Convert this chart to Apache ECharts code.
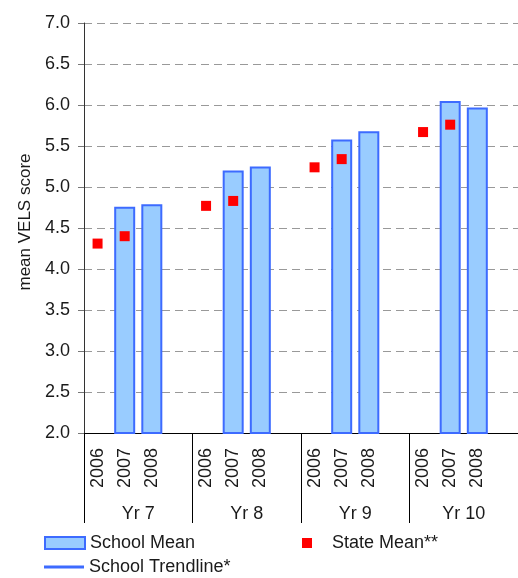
<!DOCTYPE html>
<html>
<head>
<meta charset="utf-8">
<script src="https://cdn.jsdelivr.net/npm/echarts@6/dist/echarts.min.js"></script>
<style>
  html, body { margin: 0; padding: 0; background: #fff; }
  #chart { width: 518px; height: 578px; }
</style>
</head>
<body>
<div id="chart"></div>
<script>
// one empty slot after each year group gives the gap between groups
var yearLabels = ["2006", "2007", "2008", "", "2006", "2007", "2008", "", "2006", "2007", "2008", "", "2006", "2007", "2008", ""];
var groupLabels = ["Yr 7", "Yr 8", "Yr 9", "Yr 10"];
var schoolMean = ["-", 4.76, 4.79, "-", "-", 5.20, 5.25, "-", "-", 5.58, 5.68, "-", "-", 6.05, 5.97, "-"];
var stateMean = [4.31, 4.40, "-", "-", 4.77, 4.83, "-", "-", 5.24, 5.34, "-", "-", 5.67, 5.76, "-", "-"];
var yTicks = { min: 2, max: 7, step: 0.5 };

var chart = echarts.init(document.getElementById("chart"));
var font = "Liberation Sans, Arial, sans-serif";
var txt = { fontFamily: font, fontSize: 18, color: "#1a1a1a" };

var option = {
  animation: false,
  textStyle: { fontFamily: font },
  grid: { left: 84, top: 23, width: 436, height: 410, containLabel: false },
  legend: [
    {
      left: 39,
      top: 529,
      itemWidth: 40,
      itemHeight: 12,
      data: [{ name: "School Mean", icon: "rect" }],
      textStyle: txt
    },
    {
      left: 39,
      top: 553,
      itemWidth: 40,
      itemHeight: 3,
      data: [{ name: "School Trendline*", icon: "rect" }],
      textStyle: txt
    },
    {
      left: 297,
      top: 529,
      itemWidth: 10,
      itemHeight: 10,
      data: [{ name: "State Mean**", icon: "rect" }],
      textStyle: Object.assign({}, txt, { padding: [0, 0, 0, 15] })
    }
  ],
  xAxis: [
    {
      type: "category",
      data: yearLabels,
      position: "bottom",
      axisLine: { lineStyle: { color: "#000", width: 1 } },
      axisTick: { show: false },
      axisLabel: { interval: 0, rotate: 90, margin: 15, fontSize: 18, color: "#1a1a1a", fontFamily: font }
    },
    {
      type: "category",
      data: groupLabels,
      position: "bottom",
      axisLine: { show: false },
      axisTick: { show: true, length: 90, lineStyle: { color: "#000", width: 1 } },
      axisLabel: { margin: 72, fontSize: 18, color: "#1a1a1a", fontFamily: font },
      splitLine: { show: false }
    }
  ],
  yAxis: {
    type: "value",
    min: yTicks.min,
    max: yTicks.max,
    interval: yTicks.step,
    name: "mean VELS score",
    nameLocation: "middle",
    nameGap: 50,
    nameTextStyle: { fontSize: 17, color: "#1a1a1a", fontFamily: font, padding: [0, 0, 0, 12] },
    axisLine: { show: true, lineStyle: { color: "#333", width: 1 } },
    axisTick: { show: true, length: 6, lineStyle: { color: "#777" } },
    axisLabel: {
      margin: 14,
      fontSize: 18,
      color: "#1a1a1a",
      fontFamily: font,
      formatter: function (v) { return v.toFixed(1); }
    },
    splitLine: { lineStyle: { color: "#999", type: [8, 5], width: 1 } }
  },
  series: [
    {
      name: "School Mean",
      type: "bar",
      data: schoolMean,
      barWidth: 21,
      itemStyle: { color: "#99ccff", borderColor: "#3d6bff", borderWidth: 2 }
    },
    {
      name: "School Trendline*",
      type: "line",
      data: [],
      symbol: "none",
      lineStyle: { color: "#3d6bff", width: 3 },
      itemStyle: { color: "#3d6bff" }
    },
    {
      name: "State Mean**",
      type: "scatter",
      data: stateMean,
      symbol: "rect",
      symbolSize: 10,
      itemStyle: { color: "#ff0000", opacity: 1 },
      z: 5
    }
  ]
};

chart.setOption(option);
</script>
</body>
</html>
